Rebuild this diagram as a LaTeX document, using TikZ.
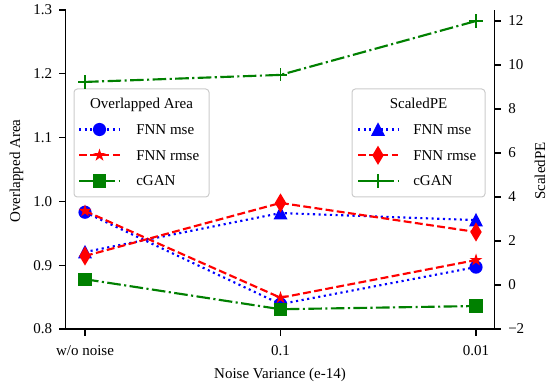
\documentclass[tikz,border=0pt]{standalone}
\usepackage{fontspec}
\setmainfont{Liberation Serif}
\definecolor{mplgreen}{RGB}{0,128,0}
\definecolor{legedge}{gray}{0.8}
\newcommand\lyv[1]{329-(#1-0.8)*638}
\newcommand\ryv[1]{285-22*(#1)}
\tikzset{
  mkcirc/.pic={\fill[blue] (0,0) circle[radius=6.6];},
  mkstar/.pic={\fill[red] (-90:6.6) \foreach \k in {0,...,4}{ -- ({-90+72*\k}:6.6) -- ({-54+72*\k}:2.55)} -- cycle;},
  mksq/.pic={\fill[mplgreen] (-6.6,-6.6) rectangle (6.6,6.6);},
  mktri/.pic={\fill[blue] (0,-7.2) -- (7,6.4) -- (-7,6.4) -- cycle;},
  mkdia/.pic={\fill[red] (0,-9.6) -- (5.7,0) -- (0,9.6) -- (-5.7,0) -- cycle;},
  mkplus/.pic={\draw[mplgreen, line width=1.3pt] (-6.6,0) -- (6.6,0) (0,-6.6) -- (0,6.6);},
}
\begin{document}
\begin{tikzpicture}[x=0.75pt,y=-0.75pt,
  font=\fontsize{11.25}{13.5}\selectfont,
  spine/.style={line width=0.9pt},
  tickmark/.style={line width=0.9pt},
  ticklab/.style={inner sep=0pt},
  lmse/.style={blue, line width=1.6pt, dash pattern=on 1.6pt off 2.64pt},
  lrmse/.style={red, line width=1.6pt, dash pattern=on 5.9pt off 2.56pt},
  lgan/.style={mplgreen, line width=1.6pt, dash pattern=on 10.2pt off 2.56pt on 1.6pt off 2.56pt},
  legbox/.style={draw=legedge, fill=white, fill opacity=0.8, line width=0.75pt, rounded corners=2.5pt},
  legtext/.style={anchor=base west, inner sep=0pt},
  legtitle/.style={anchor=base, inner sep=0pt},
]
\fill[white] (0,0) rectangle (549,388);
\useasboundingbox (0,0) rectangle (549,388);

% ---------- data points ----------
% Overlapped Area (left axis)
\coordinate (a1) at (85,{\lyv{0.983}});
\coordinate (a2) at (280.5,{\lyv{0.839}});
\coordinate (a3) at (476,{\lyv{0.897}});
\coordinate (b1) at (85,{\lyv{0.985}});
\coordinate (b2) at (280.5,{\lyv{0.849}});
\coordinate (b3) at (476,{\lyv{0.908}});
\coordinate (g1) at (85,{\lyv{0.878}});
\coordinate (g2) at (280.5,{\lyv{0.831}});
\coordinate (g3) at (476,{\lyv{0.836}});
% ScaledPE (right axis)
\coordinate (t1) at (85,{\ryv{1.5}});
\coordinate (t2) at (280.5,{\ryv{3.27}});
\coordinate (t3) at (476,{\ryv{2.95}});
\coordinate (d1) at (85,{\ryv{1.32}});
\coordinate (d2) at (280.5,{\ryv{3.73}});
\coordinate (d3) at (476,{\ryv{2.41}});
\coordinate (p1) at (85,{\ryv{9.23}});
\coordinate (p2) at (280.5,{\ryv{9.55}});
\coordinate (p3) at (476,{\ryv{12.0}});

% ---------- left axis series ----------
\draw[lmse] (a1) -- (a2) -- (a3);
\foreach \c in {a1,a2,a3} \pic at (\c) {mkcirc};
\draw[lrmse] (b1) -- (b2) -- (b3);
\foreach \c in {b1,b2,b3} \pic at (\c) {mkstar};
\draw[lgan] (g1) -- (g2) -- (g3);
\foreach \c in {g1,g2,g3} \pic at (\c) {mksq};

% ---------- spines ----------
\coordinate (sTL) at (65.5,10);
\coordinate (sBL) at (65.5,329);
\coordinate (sBR) at (494.5,329);
\coordinate (sTR) at (494.5,10);
\draw[spine] (sTL) -- (sBL) -- (sBR) -- (sTR);

% left ticks
\foreach \v/\lab/\n in {0.8/0.8/0,0.9/0.9/1,1.0/1.0/2,1.1/1.1/3,1.2/1.2/4,1.3/1.3/5}{
  \coordinate (lt\n) at (65.5,{\lyv{\v}});
  \coordinate (lu\n) at (59,{\lyv{\v}});
  \draw[tickmark] (lt\n) -- (lu\n);
  \node[ticklab, anchor=east] (ll\n) at (52.5,{\lyv{\v}}) {\lab};
}
% right ticks
\foreach \v/\lab/\n in {-2/−2/0,0/0/1,2/2/2,4/4/3,6/6/4,8/8/5,10/10/6,12/12/7}{
  \coordinate (rt\n) at (494.5,{\ryv{\v}});
  \coordinate (ru\n) at (501,{\ryv{\v}});
  \draw[tickmark] (rt\n) -- (ru\n);
  \node[ticklab, anchor=west] (rl\n) at (508,{\ryv{\v}}) {\lab};
}
% bottom ticks
\foreach \x/\lab/\n in {85/w\slash o noise/0,280.5/0.1/1,476/0.01/2}{
  \coordinate (bt\n) at (\x,329);
  \coordinate (bu\n) at (\x,335.5);
  \draw[tickmark] (bt\n) -- (bu\n);
  \node[ticklab, anchor=base] (bl\n) at (\x,355) {\lab};
}

% axis labels
\node[rotate=90, anchor=base, inner sep=0pt] (ylab) at (20,171) {Overlapped Area};
\node[rotate=90, anchor=base, inner sep=0pt] (y2lab) at (545,171) {ScaledPE};
\node[anchor=base, inner sep=0pt] (xlab) at (280,378.5) {Noise Variance (e-14)};

% ---------- legend 1 ----------
\draw[legbox] (74,89) rectangle (209,197);
\node[legtitle] (lg1t) at (141.5,108.5) {Overlapped Area};
\coordinate (l1a) at (79,129.5);  \coordinate (l1m) at (99.5,129.5); \coordinate (l1b) at (120,129.5);
\coordinate (l2a) at (79,155.3);  \coordinate (l2m) at (99.5,155.3); \coordinate (l2b) at (120,155.3);
\coordinate (l3a) at (79,181);    \coordinate (l3m) at (99.5,181);   \coordinate (l3b) at (120,181);
\draw[lmse] (l1a) -- (l1b); \pic at (l1m) {mkcirc};
\draw[lrmse] (l2a) -- (l2b); \pic at (l2m) {mkstar};
\draw[lgan] (l3a) -- (l3b); \pic at (l3m) {mksq};
\node[legtext] (lg1a) at (136,134.5) {FNN mse};
\node[legtext] (lg1b) at (136,160.3) {FNN rmse};
\node[legtext] (lg1c) at (136,186) {cGAN};

% ---------- right axis series ----------
\draw[lmse] (t1) -- (t2) -- (t3);
\foreach \c in {t1,t2,t3} \pic at (\c) {mktri};
\draw[lrmse] (d1) -- (d2) -- (d3);
\foreach \c in {d1,d2,d3} \pic at (\c) {mkdia};
\draw[lgan] (p1) -- (p2) -- (p3);
\foreach \c in {p1,p2,p3} \pic at (\c) {mkplus};

% ---------- legend 2 ----------
\draw[legbox] (352,89) rectangle (485,197);
\node[legtitle] (lg2t) at (418.5,108.5) {ScaledPE};
\coordinate (m1a) at (358,129.5);  \coordinate (m1m) at (378,129.5); \coordinate (m1b) at (398,129.5);
\coordinate (m2a) at (358,155.3);  \coordinate (m2m) at (378,155.3); \coordinate (m2b) at (398,155.3);
\coordinate (m3a) at (358,181);    \coordinate (m3m) at (378,181);   \coordinate (m3b) at (398,181);
\draw[lmse] (m1a) -- (m1b); \pic at (m1m) {mktri};
\draw[lrmse] (m2a) -- (m2b); \pic at (m2m) {mkdia};
\draw[lgan] (m3a) -- (m3b); \pic at (m3m) {mkplus};
\node[legtext] (lg2a) at (413,134.5) {FNN mse};
\node[legtext] (lg2b) at (413,160.3) {FNN rmse};
\node[legtext] (lg2c) at (413,186) {cGAN};
\end{tikzpicture}
\end{document}
